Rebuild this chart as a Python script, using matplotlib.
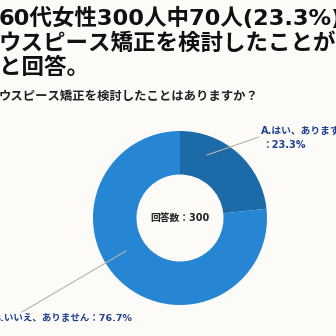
import matplotlib
matplotlib.use("Agg")
import matplotlib.pyplot as plt

plt.rcParams['font.family'] = ['DejaVu Sans', 'Noto Sans CJK JP']

title_lines = ["60代女性300人中70人(23.3%)が", "ウスピース矯正を検討したことがある", "と回答。"]
subtitle = "ウスピース矯正を検討したことはありますか？"
categories = ["A.はい、あります", "B.いいえ、ありません"]
values = [23.3, 76.7]
center_label = "回答数：300"
colors = ["#1c6aa8", "#2786d4"]
bg = "#fcfbf8"
label_color = "#1e3f8f"

W = H = 336
fig = plt.figure(figsize=(3.36, 3.36), dpi=100, facecolor=bg)

def px(x, y):
    return x / W, 1 - y / H

# Titles
for line, yc in zip(title_lines, [18, 43, 67]):
    fig.text(*px(-1, yc), line, fontsize=16.2, fontweight='bold', color='#111111',
             ha='left', va='center')
fig.text(*px(-1, 96), subtitle, fontsize=8.9, fontweight='bold', color='#222222',
         ha='left', va='center')

# Donut
cx, cy, r = 180, 218, 87
ax = fig.add_axes([(cx - r) / W, 1 - (cy + r) / H, 2 * r / W, 2 * r / H])
ax.set_facecolor(bg)
wedges, _ = ax.pie(values, colors=colors, startangle=90, counterclock=False,
                   radius=1.0, wedgeprops=dict(width=0.5, edgecolor='none'))
ax.set_xlim(-1, 1)
ax.set_ylim(-1, 1)
ax.set_aspect('equal')
ax.axis('off')

ax.text(0, 0, center_label, fontsize=7.0, fontweight='bold', color='#222222',
        ha='center', va='center')

# Leader lines (figure pixel coords)
line_col = "#b9b4a8"
fig.add_artist(plt.Line2D([207 / W, 259 / W], [1 - 155 / H, 1 - 137 / H],
                          color=line_col, lw=0.8, transform=fig.transFigure))
fig.add_artist(plt.Line2D([126 / W, 22 / W], [1 - 251 / H, 1 - 312 / H],
                          color=line_col, lw=0.8, transform=fig.transFigure))

# Labels
fig.text(*px(261, 131), categories[0], fontsize=7.0, fontweight='bold',
         color=label_color, ha='left', va='center')
fig.text(*px(262, 145), f"：{values[0]}%", fontsize=7.0, fontweight='bold',
         color=label_color, ha='left', va='center')
fig.text(*px(-7, 318), f"{categories[1]}：{values[1]}%", fontsize=6.8,
         fontweight='bold', color=label_color, ha='left', va='center')

fig.savefig("out.png", dpi=100, facecolor=bg)
